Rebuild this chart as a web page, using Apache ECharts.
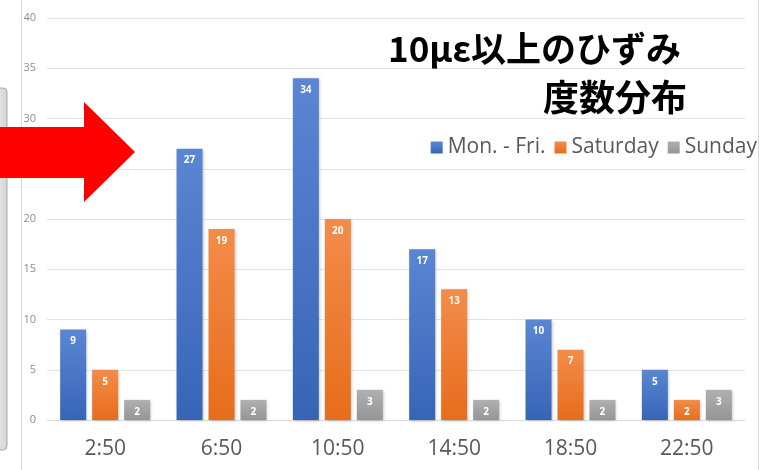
<!DOCTYPE html>
<html>
<head>
<meta charset="utf-8">
<script src="https://cdn.jsdelivr.net/npm/echarts@6/dist/echarts.min.js"></script>
<style>
  html, body { margin: 0; padding: 0; background: #ffffff; }
  #chart { width: 770px; height: 470px; }
</style>
</head>
<body>
<div id="chart"></div>
<script>
// Time slots on the category axis
const timeSlots = ['2:50', '6:50', '10:50', '14:50', '18:50', '22:50'];
// Count of strain events >= 10 με per time slot
const weekdayCounts = [9, 27, 34, 17, 10, 5];
const saturdayCounts = [5, 19, 20, 13, 7, 2];
const sundayCounts = [2, 2, 3, 2, 2, 3];
const seriesNames = ['Mon. - Fri.', 'Saturday', 'Sunday'];
const yTicks = { min: 0, max: 40, step: 5 };

const chart = echarts.init(document.getElementById('chart'), null, { renderer: 'canvas' });

function vGrad(top, bottom) {
  return new echarts.graphic.LinearGradient(0, 0, 0, 1, [
    { offset: 0, color: top },
    { offset: 1, color: bottom }
  ]);
}

function barSeries(name, values, top, bottom) {
  return {
    name: name,
    type: 'bar',
    data: values,
    barWidth: 26,
    barGap: '23%',
    itemStyle: {
      color: vGrad(top, bottom),
      shadowColor: 'rgba(0,0,0,0.25)',
      shadowBlur: 3,
      shadowOffsetX: 1,
      shadowOffsetY: 1
    },
    label: {
      show: true,
      position: 'insideTop',
      distance: 7,
      color: '#ffffff',
      fontSize: 10,
      fontWeight: 'bold',
      fontFamily: 'Open Sans, sans-serif'
    }
  };
}

chart.setOption({
  backgroundColor: '#ffffff',
  animation: false,
  color: ['#4472c4', '#ed7d31', '#a5a5a5'],
  title: [
    {
      text: '10με以上のひずみ',
      right: 84,
      top: 26,
      textStyle: { fontSize: 35, fontWeight: 'bold', color: '#000000', fontFamily: 'Noto Sans CJK JP, sans-serif' }
    },
    {
      text: '度数分布',
      right: 78,
      top: 74,
      textStyle: { fontSize: 36, fontWeight: 'bold', color: '#000000', fontFamily: 'Noto Sans CJK JP, sans-serif' }
    }
  ],
  legend: {
    data: seriesNames,
    right: 8,
    top: 132,
    icon: 'rect',
    itemWidth: 12,
    itemHeight: 12,
    itemGap: 9,
    textStyle: { fontSize: 21, color: '#595959', fontFamily: 'Open Sans, sans-serif' }
  },
  grid: { left: 47, right: 25, top: 18, bottom: 50, containLabel: false },
  xAxis: {
    type: 'category',
    data: timeSlots,
    axisTick: { show: false },
    axisLine: { show: true, lineStyle: { color: '#d9d9d9', width: 1 } },
    axisLabel: { fontSize: 21, color: '#595959', margin: 19, fontFamily: 'Open Sans, sans-serif' }
  },
  yAxis: {
    type: 'value',
    min: yTicks.min,
    max: yTicks.max,
    interval: yTicks.step,
    axisLine: { show: false },
    axisTick: { show: false },
    splitLine: { lineStyle: { color: '#e3e3e3', width: 1 } },
    axisLabel: { fontSize: 11, color: '#8c8c8c', margin: 11, fontFamily: 'Open Sans, sans-serif' }
  },
  series: [
    barSeries(seriesNames[0], weekdayCounts, '#5a86d3', '#3765b6'),
    barSeries(seriesNames[1], saturdayCounts, '#f38c4a', '#e66d1b'),
    barSeries(seriesNames[2], sundayCounts, '#b0b0b0', '#959595')
  ],
  graphic: [
    // panel edge on the far left
    {
      type: 'rect',
      shape: { x: -8, y: 88, width: 15, height: 362, r: 4 },
      style: { fill: new echarts.graphic.LinearGradient(0, 0, 1, 0, [
        { offset: 0, color: '#eeeeee' }, { offset: 1, color: '#d4d4d4' }
      ]), stroke: '#a9a9a9', lineWidth: 1 },
      z: 5
    },
    // chart frame borders
    { type: 'line', shape: { x1: 21.5, y1: 0, x2: 21.5, y2: 470 }, style: { stroke: '#d9d9d9', lineWidth: 1 }, z: 5 },
    { type: 'line', shape: { x1: 758.5, y1: 0, x2: 758.5, y2: 470 }, style: { stroke: '#d9d9d9', lineWidth: 1 }, z: 5 },
    // red arrow pointing into the chart
    {
      type: 'polygon',
      shape: { points: [[0, 127], [84, 127], [84, 102], [135, 152], [84, 202], [84, 178], [0, 178]] },
      style: { fill: '#ff0000' },
      z: 10
    }
  ]
});
</script>
</body>
</html>
